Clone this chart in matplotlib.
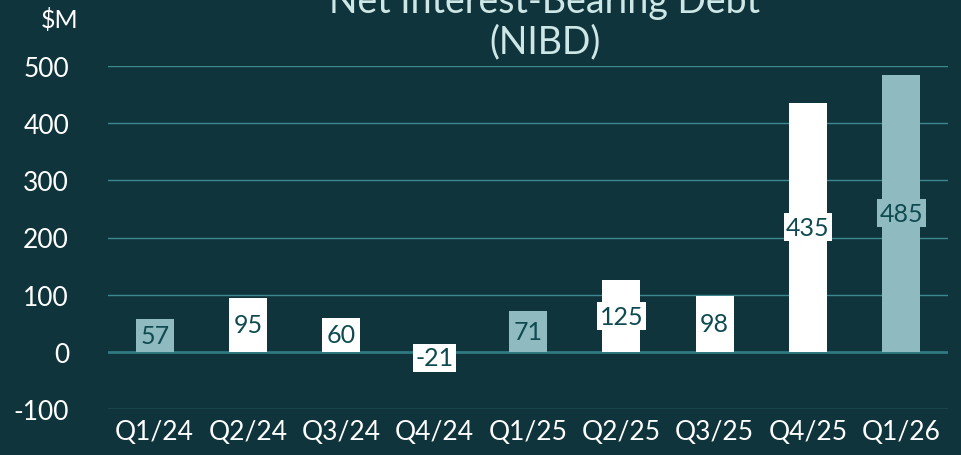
import numpy as np
import matplotlib.pyplot as plt

quarters = ["Q1/24", "Q2/24", "Q3/24", "Q4/24", "Q1/25", "Q2/25", "Q3/25", "Q4/25", "Q1/26"]
nibd = [57, 95, 60, -21, 71, 125, 98, 435, 485]
highlight = [True, False, False, False, True, False, False, False, True]
yticks = [-100, 0, 100, 200, 300, 400, 500]

bg = "#0f343b"
teal = "#8fbbc0"
white = "#ffffff"
grid_col = "#3d8890"
text_dark = "#0f4a50"

plt.rcParams['font.family'] = ['Lato', 'DejaVu Sans']

fig = plt.figure(figsize=(9.62, 4.56), dpi=100, facecolor=bg)
ax = fig.add_axes([108/962, 46/456, 840/962, 343/456])
ax.set_facecolor(bg)

x = np.arange(len(quarters))
colors = [teal if h else white for h in highlight]
ax.bar(x, nibd, width=0.41, color=colors, zorder=3)

for xi, v, c in zip(x, nibd, colors):
    ax.text(xi, v / 2, str(v), ha='center', va='center', fontsize=18, color=text_dark, zorder=4,
            bbox=dict(boxstyle='square,pad=0.1', facecolor=c, edgecolor='none'))

ax.set_xlim(-0.5, len(quarters) - 0.5)
ax.set_ylim(-100, 500)
ax.set_yticks(yticks)
ax.set_yticklabels([str(t) for t in yticks])
ax.set_xticks(x)
ax.set_xticklabels(quarters)
ax.tick_params(axis='both', length=0, colors='white', labelsize=19)
ax.tick_params(axis='y', pad=28)
ax.tick_params(axis='x', pad=7)
ax.grid(axis='y', color=grid_col, linewidth=1, zorder=0)
ax.axhline(0, color="#2f7880", linewidth=2, zorder=2)
ax.set_axisbelow(True)
for s in ax.spines.values():
    s.set_visible(False)

fig.text(78/962, 1 - 20/456, "$M", ha='right', va='center', color='white', fontsize=18)
fig.text(545/962, 1 - 60/456, "Net Interest-Bearing Debt\n(NIBD)", ha='center', va='bottom',
         color="#cde6e6", fontsize=27, linespacing=1.15)

fig.savefig("out.png", dpi=100, facecolor=bg)
